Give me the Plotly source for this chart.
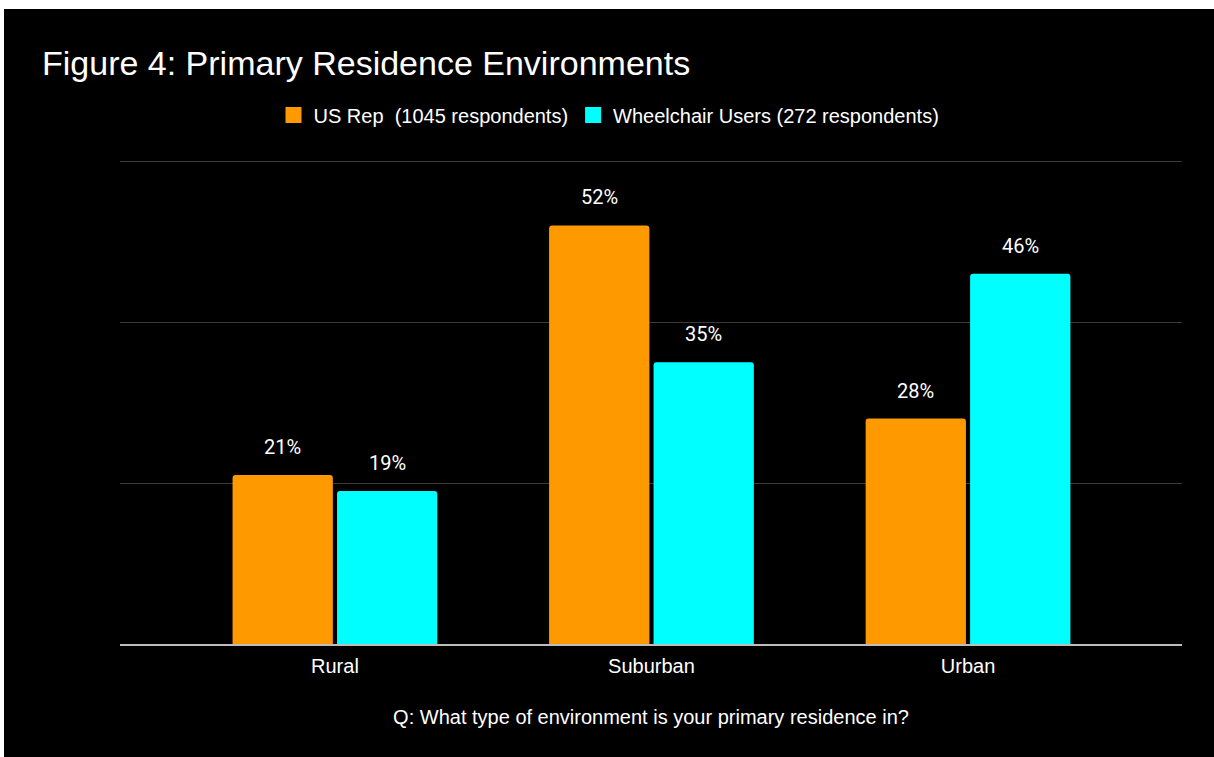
import plotly.graph_objects as go

# Survey results: share of respondents by primary residence environment
categories = ["Rural", "Suburban", "Urban"]
us_rep = [21, 52, 28]
wheelchair = [19, 35, 46]
series_names = ["US Rep  (1045 respondents)", "Wheelchair Users (272 respondents)"]
series_colors = ["#FF9900", "#00FFFF"]

W, H = 1214, 757
ML, MR, MT, MB = 120, 32, 157, 113
plot_w = W - ML - MR
plot_h = H - MT - MB

fig = go.Figure()
for name, vals, col in zip(series_names, [us_rep, wheelchair], series_colors):
    fig.add_trace(go.Bar(
        x=list(range(len(categories))), y=vals, name=name,
        marker=dict(color=col, line=dict(width=0), cornerradius=3),
        hoverinfo="skip", showlegend=False,
    ))

# legend entries with larger square swatches
for name, col in zip(series_names, series_colors):
    fig.add_trace(go.Scatter(
        x=[None], y=[None], mode="markers", name=name,
        marker=dict(symbol="square", size=16, color=col),
        hoverinfo="skip",
    ))

# value labels above each bar
bargap, groupgap = 0.34, 0.04
slot = (1 - bargap) / 2
for k, vals in enumerate([us_rep, wheelchair]):
    offset = (k - 0.5) * slot
    for i, v in enumerate(vals):
        fig.add_annotation(
            x=i + offset, y=v, xref="x", yref="y",
            text=f"{v}%", showarrow=False, yshift=28,
            font=dict(family="Roboto", size=20, color="#ffffff"),
        )

# white page edge around the dark chart card
def px_x(p):
    return (p - ML) / plot_w

def px_y(p):
    return (H - MB - p) / plot_h

fig.add_shape(type="rect", xref="paper", yref="paper",
              x0=px_x(0), x1=px_x(W), y0=px_y(9), y1=px_y(0),
              fillcolor="#ffffff", line=dict(width=0), layer="above")
fig.add_shape(type="rect", xref="paper", yref="paper",
              x0=px_x(0), x1=px_x(4), y0=px_y(H), y1=px_y(0),
              fillcolor="#ffffff", line=dict(width=0), layer="above")

fig.update_layout(
    width=W, height=H,
    margin=dict(l=ML, r=MR, t=MT, b=MB, pad=0),
    paper_bgcolor="#000000", plot_bgcolor="#000000",
    barmode="group", bargap=bargap, bargroupgap=groupgap,
    title=dict(
        text="Figure 4: Primary Residence Environments",
        x=42 / W, xanchor="left", xref="container",
        y=1 - 63 / H, yanchor="middle", yref="container",
        font=dict(family="Liberation Sans, Arial", size=34, color="#ffffff"),
    ),
    legend=dict(
        orientation="h", xref="container", yref="container",
        x=609 / W, xanchor="center", y=1 - 115 / H, yanchor="middle",
        font=dict(family="Liberation Sans, Arial", size=20, color="#ffffff"),
        bgcolor="rgba(0,0,0,0)", itemclick=False, itemdoubleclick=False,
        itemsizing="trace",
    ),
    font=dict(family="Liberation Sans, Arial", color="#ffffff"),
    showlegend=True,
)

fig.update_xaxes(
    tickmode="array", tickvals=list(range(len(categories))), ticktext=categories,
    range=[-0.679, 2.676], showgrid=False, zeroline=False,
    showline=True, linecolor="#bdbdbd", linewidth=2, ticks="",
    ticklabelstandoff=3,
    tickfont=dict(family="Liberation Sans, Arial", size=20, color="#ffffff"),
    title=dict(text="Q: What type of environment is your primary residence in?",
               font=dict(family="Liberation Sans, Arial", size=20, color="#ffffff"),
               standoff=34),
)
fig.update_yaxes(
    range=[0, 60.5], tickvals=[0, 20, 40, 60], showticklabels=False,
    showgrid=True, gridcolor="#3a3a3a", gridwidth=1.3, zeroline=False,
    showline=False, ticks="",
)

fig.write_html("out.html")
